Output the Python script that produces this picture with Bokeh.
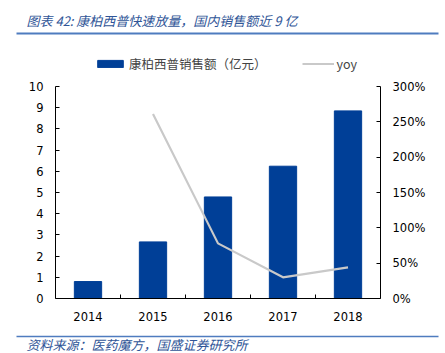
from bokeh.plotting import figure
from bokeh.layouts import column, row
from bokeh.models import (Range1d, LinearAxis, FixedTicker, NumeralTickFormatter,
                          Legend, LegendItem)
from bokeh.core.properties import value
from bokeh.embed import file_html
from bokeh.resources import INLINE

years = ["2014", "2015", "2016", "2017", "2018"]
sales = [0.80, 2.67, 4.79, 6.24, 8.85]
yoy_years = ["2015", "2016", "2017", "2018"]
yoy = [2.61, 0.78, 0.30, 0.44]

title_text = "图表 42: 康柏西普快速放量，国内销售额近 9 亿"
source_text = "资料来源：医药魔方，国盛证券研究所"
bar_label = "康柏西普销售额（亿元）"
line_label = "yoy"

W = 445
TOP_H, MAIN_H, BOT_H = 40, 289, 24
CJK = "Noto Sans CJK SC"
TXT_COLOR = "#2F5597"
RULE_COLOR = "#4F7CBF"


def deco(height, y0):
    f = figure(width=W, height=height, output_backend="svg", toolbar_location=None,
               x_range=Range1d(0, W), y_range=Range1d(y0 + height, y0),
               min_border=0, min_border_left=0, min_border_right=0,
               min_border_top=0, min_border_bottom=0,
               x_axis_location=None, y_axis_location=None)
    f.outline_line_color = None
    f.xgrid.visible = False
    f.ygrid.visible = False
    return f


# --- header ---
top = deco(TOP_H, 0)
top.text(x=[26], y=[20], text=[title_text], text_font=value(CJK), text_font_size="13px",
         text_font_style="italic", text_color=TXT_COLOR, text_baseline="middle")
top.segment(x0=[16], y0=[33], x1=[438], y1=[33], line_color=RULE_COLOR, line_width=2)

# --- main chart ---
frame_px = 258.0   # frame height (canvas 40..298)
axis_px = 212.0    # height covered by the 0..10 axis
xs = [i + 1 for i in range(len(years))]
yoy_x = [years.index(y) + 1 for y in yoy_years]

p = figure(width=W, height=MAIN_H, output_backend="svg", toolbar_location=None,
           x_range=Range1d(0.5, len(years) + 0.5),
           y_range=Range1d(0, 10 * frame_px / axis_px),
           min_border_left=55, min_border_right=65, min_border_top=0,
           min_border_bottom=31, x_axis_location=None, y_axis_location=None)
p.outline_line_color = None
p.xgrid.visible = False
p.ygrid.visible = False
p.extra_y_ranges = {"yoy": Range1d(0, 3 * frame_px / axis_px)}

font = "DejaVu Sans"
bars = p.vbar(x=xs, top=sales, width=0.42, color="#003F97")
line = p.line(x=yoy_x, y=yoy, y_range_name="yoy", line_color="#C9C9C9", line_width=2.2)

xaxis = LinearAxis(ticker=FixedTicker(ticks=xs, minor_ticks=[x + 0.5 for x in xs[:-1]]),
                   major_label_overrides={x: y for x, y in zip(xs, years)})
xaxis.major_tick_in = 0
xaxis.major_tick_out = 0
xaxis.minor_tick_in = 4
xaxis.minor_tick_out = 0
xaxis.minor_tick_line_color = "black"
xaxis.major_label_standoff = 13
p.add_layout(xaxis, "below")

yl = LinearAxis(ticker=FixedTicker(ticks=list(range(0, 11))), bounds=(0, 10))
yl.major_tick_in = 4
yl.major_tick_out = 0
yl.minor_tick_line_color = None
yl.major_label_standoff = 12
p.add_layout(yl, "left")

yr = LinearAxis(y_range_name="yoy", ticker=FixedTicker(ticks=[0, 0.5, 1, 1.5, 2, 2.5, 3]),
                formatter=NumeralTickFormatter(format="0%"), bounds=(0, 3))
yr.major_tick_in = 4
yr.major_tick_out = 0
yr.minor_tick_line_color = None
yr.major_label_standoff = 12
p.add_layout(yr, "right")

for ax in (xaxis, yl, yr):
    ax.axis_line_color = "black"
    ax.axis_line_width = 1
    ax.major_tick_line_color = "black"
    ax.major_label_text_font = font
    ax.major_label_text_font_size = "11.5px"
    ax.major_label_text_color = "black"

legend = Legend(items=[LegendItem(label=bar_label, renderers=[bars]),
                       LegendItem(label=line_label, renderers=[line])],
                location=(39, 225), orientation="horizontal",
                glyph_width=32, glyph_height=9, label_standoff=3, spacing=35,
                padding=0, margin=0, border_line_color=None, background_fill_alpha=0,
                label_text_font=CJK, label_text_font_size="12.5px",
                label_height=14)
p.add_layout(legend, "center")

# --- footer ---
bot = deco(BOT_H, TOP_H + MAIN_H)
bot.segment(x0=[16], y0=[336], x1=[438], y1=[336], line_color=RULE_COLOR, line_width=1.5)
bot.text(x=[26], y=[344], text=[source_text], text_font=value(CJK), text_font_size="13px",
         text_font_style="italic", text_color=TXT_COLOR, text_baseline="middle")

layout = column(row(top), p, row(bot), spacing=0)
open("out.html", "w").write(file_html(layout, INLINE))
